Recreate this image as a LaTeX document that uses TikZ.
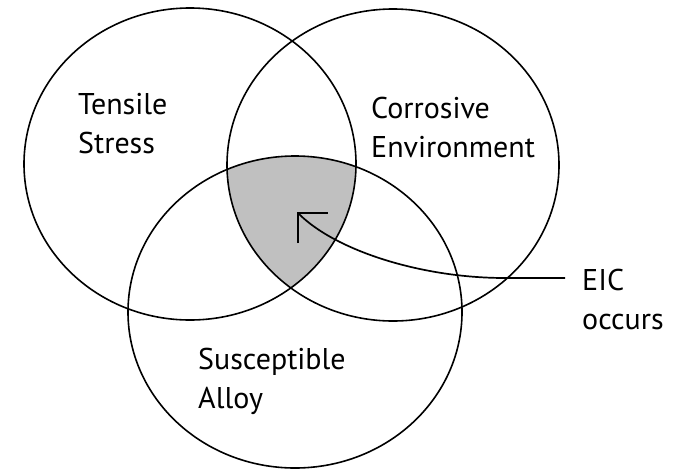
\documentclass[tikz,border=0pt]{standalone}
\usepackage{fontspec}
\setmainfont{PT Sans}
\usetikzlibrary{arrows.meta}
\definecolor{overlapgray}{RGB}{192,192,192}
\begin{document}
\begin{tikzpicture}[x=1pt,y=-1pt,
  setline/.style={line width=1.6pt,draw=black},
  % base anchor of a two-line label sits on its second line
  setlabel/.style={anchor=base west,align=left,inner sep=0pt,
    font=\fontsize{30}{38.5}\selectfont},
  pointer/.style={line width=1.7pt,
    -{Straight Barb[angle=90:30pt,line cap=butt,line width=2.2pt]}}]
\useasboundingbox (0,0) rectangle (674,469);
% the three sets
\def\setA{(190,164) ellipse [x radius=166,y radius=156]}
\def\setB{(393,165) ellipse [x radius=166,y radius=156]}
\def\setC{(295,312) ellipse [x radius=167,y radius=156]}
% common region of all three sets
\begin{scope}
  \clip \setA;
  \clip \setB;
  \fill[overlapgray] \setC;
\end{scope}
\draw[setline] \setA;
\draw[setline] \setB;
\draw[setline] \setC;
% labels
\node[setlabel] (tensile) at (78,153) {Tensile\\Stress};
\node[setlabel] (corrosive) at (371,157) {Corrosive\\Environment};
\node[setlabel] (alloy) at (198,408) {Susceptible\\Alloy};
\node[setlabel] (eic) at (582,329) {EIC\\occurs};
% pointer into the common region
\coordinate (lead) at (565,278);
\coordinate (tip) at (297,212);
\draw[pointer] (lead) -- ++(-60,0)
  .. controls (420,278) and (335,250) .. (tip);
\end{tikzpicture}
\end{document}
